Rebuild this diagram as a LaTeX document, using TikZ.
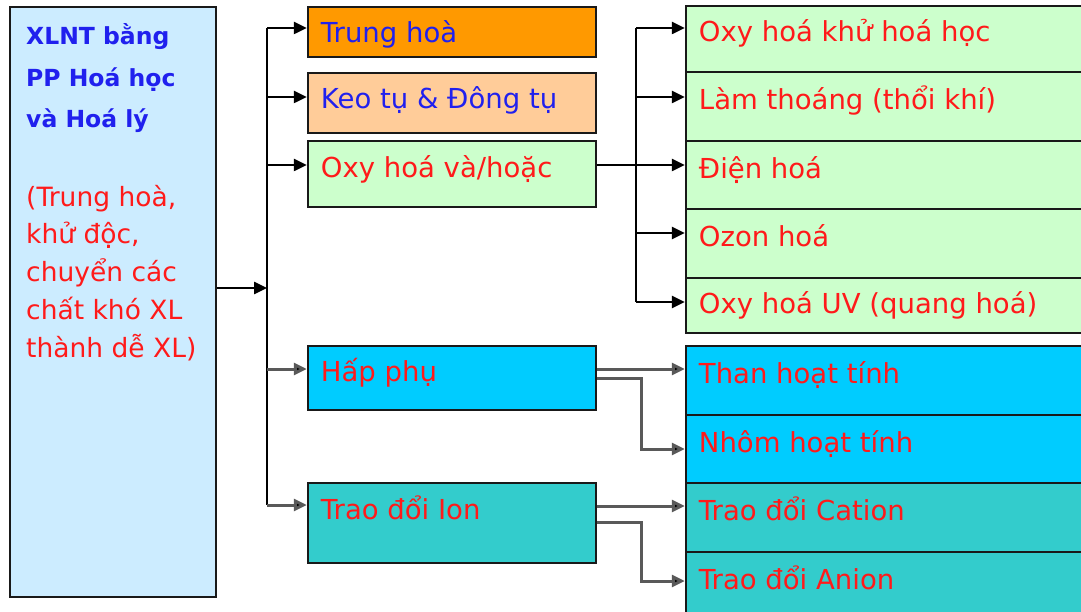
\documentclass[tikz,border=0pt]{standalone}
\usepackage{fontspec}
\setmainfont{DejaVu Sans}
\usetikzlibrary{arrows.meta,fit}
\definecolor{lblue}{HTML}{CCECFF}
\definecolor{orng}{HTML}{FF9900}
\definecolor{peach}{HTML}{FFCC99}
\definecolor{lgreen}{HTML}{CCFFCC}
\definecolor{cyanb}{HTML}{00CCFF}
\definecolor{tealb}{HTML}{33CCCC}
\definecolor{txtblue}{HTML}{2020EE}
\definecolor{txtred}{HTML}{FF1A1A}
\begin{document}
\begin{tikzpicture}[x=1pt,y=-1pt,
  box/.style={draw=black!90, line width=2.5pt, inner sep=0pt},
  lbl/.style={anchor=base west, inner sep=0pt, text=txtred,
              font=\fontsize{27.5}{37.5}\selectfont},
  side/.style={anchor=base west, inner sep=0pt, text=txtred,
              font=\fontsize{26.5}{37.5}\selectfont},
  ttl/.style={anchor=base west, inner sep=0pt, text=txtblue,
              font=\bfseries\fontsize{23.5}{41.5}\selectfont},
  ln/.style={line width=2.5pt, draw=black},
  arr/.style={line width=2.5pt, draw=black, -{Triangle[length=13pt,width=12pt]}},
  arrl/.style={line width=3pt, draw=black!65, -{Triangle[length=13pt,width=12pt,fill=black]}},
]
\useasboundingbox[fill=white] (0,0) rectangle (1081,612);

% left summary box
\node[box, fill=lblue, fit={(10,7)(216,597)}] (L) {};
\node[ttl] (t1) at (26,45) {XLNT bằng};
\node[ttl] (t2) at (26,86.5) {PP Hoá học};
\node[ttl] (t3) at (26,128) {và Hoá lý};
\node[side] (d1) at (26,207) {(Trung hoà,};
\node[side] (d2) at (26,244) {khử độc,};
\node[side] (d3) at (26,281) {chuyển các};
\node[side] (d4) at (26,319) {chất khó XL};
\node[side] (d5) at (26,357) {thành dễ XL)};

% middle column
\node[box, fill=orng,   fit={(308,7)(596,57)}]    (trung) {};
\node[box, fill=peach,  fit={(308,73)(596,133)}]  (keo) {};
\node[box, fill=lgreen, fit={(308,141)(596,207)}] (oxy) {};
\node[box, fill=cyanb,  fit={(308,346)(596,410)}] (hap) {};
\node[box, fill=tealb,  fit={(308,483)(596,563)}] (ion) {};
\node[lbl, text=txtblue] (ttrung) at ([shift={(14,37)}]trung.north west) {Trung hoà};
\node[lbl, text=txtblue] (tkeo)   at ([shift={(14,37)}]keo.north west) {Keo tụ \& Đông tụ};
\node[lbl] (toxy) at ([shift={(14,38)}]oxy.north west) {Oxy hoá và/hoặc};
\node[lbl] (thap) at ([shift={(14,37)}]hap.north west) {Hấp phụ};
\node[lbl] (tion) at ([shift={(14,38)}]ion.north west) {Trao đổi Ion};

% right column
\node[box, fill=lgreen, fit={(686,6)(1090,72)}]    (r1) {};
\node[box, fill=lgreen, fit={(686,72)(1090,141)}]  (r2) {};
\node[box, fill=lgreen, fit={(686,141)(1090,209)}] (r3) {};
\node[box, fill=lgreen, fit={(686,209)(1090,278)}] (r4) {};
\node[box, fill=lgreen, fit={(686,278)(1090,333)}] (r5) {};
\node[box, fill=cyanb,  fit={(686,346)(1090,415)}] (r6) {};
\node[box, fill=cyanb,  fit={(686,415)(1090,483)}] (r7) {};
\node[box, fill=tealb,  fit={(686,483)(1090,552)}] (r8) {};
\node[box, fill=tealb,  fit={(686,552)(1090,620)}] (r9) {};
\node[lbl] (tr1) at ([shift={(14,37)}]r1.north west) {Oxy hoá khử hoá học};
\node[lbl] (tr2) at ([shift={(14,39)}]r2.north west) {Làm thoáng (thổi khí)};
\node[lbl] (tr3) at ([shift={(14,39)}]r3.north west) {Điện hoá};
\node[lbl] (tr4) at ([shift={(14,39)}]r4.north west) {Ozon hoá};
\node[lbl] (tr5) at ([shift={(14,37)}]r5.north west) {Oxy hoá UV (quang hoá)};
\node[lbl] (tr6) at ([shift={(14,39)}]r6.north west) {Than hoạt tính};
\node[lbl] (tr7) at ([shift={(14,39)}]r7.north west) {Nhôm hoạt tính};
\node[lbl] (tr8) at ([shift={(14,39)}]r8.north west) {Trao đổi Cation};
\node[lbl] (tr9) at ([shift={(14,39)}]r9.north west) {Trao đổi Anion};

% main distribution bus
\coordinate (bA) at (267,28);
\coordinate (bB) at (267,97);
\coordinate (bC) at (267,165);
\coordinate (bIn) at (267,288);
\coordinate (bD) at (267,369);
\coordinate (bE) at (267,505);
\draw[ln] (bA) -- (bE);
\draw[arr] (L.east |- bIn) -- (bIn);
\draw[arr] (bA) -- (bA -| trung.west);
\draw[arr] (bB) -- (bB -| keo.west);
\draw[arr] (bC) -- (bC -| oxy.west);
\draw[arrl] (bD) -- (bD -| hap.west);
\draw[arrl] (bE) -- (bE -| ion.west);

% oxidation branches
\coordinate (gA) at (636,28);
\coordinate (gB) at (636,97);
\coordinate (gC) at (636,165);
\coordinate (gD) at (636,233);
\coordinate (gE) at (636,302);
\draw[ln] (gA) -- (gE);
\draw[arr] (oxy.east |- gC) -- (gC -| r3.west);
\draw[arr] (gA) -- (gA -| r1.west);
\draw[arr] (gB) -- (gB -| r2.west);
\draw[arr] (gD) -- (gD -| r4.west);
\draw[arr] (gE) -- (gE -| r5.west);

% adsorption branches
\coordinate (hA) at (641,369);
\coordinate (hB) at (641,378);
\coordinate (hC) at (641,449);
\draw[arrl] (hA -| hap.east) -- (hA -| r6.west);
\draw[arrl] (hB -| hap.east) -- (hB) -- (hC) -- (hC -| r7.west);

% ion exchange branches
\coordinate (iA) at (641,506);
\coordinate (iB) at (641,522);
\coordinate (iC) at (641,581);
\draw[arrl] (iA -| ion.east) -- (iA -| r8.west);
\draw[arrl] (iB -| ion.east) -- (iB) -- (iC) -- (iC -| r9.west);
\end{tikzpicture}
\end{document}
